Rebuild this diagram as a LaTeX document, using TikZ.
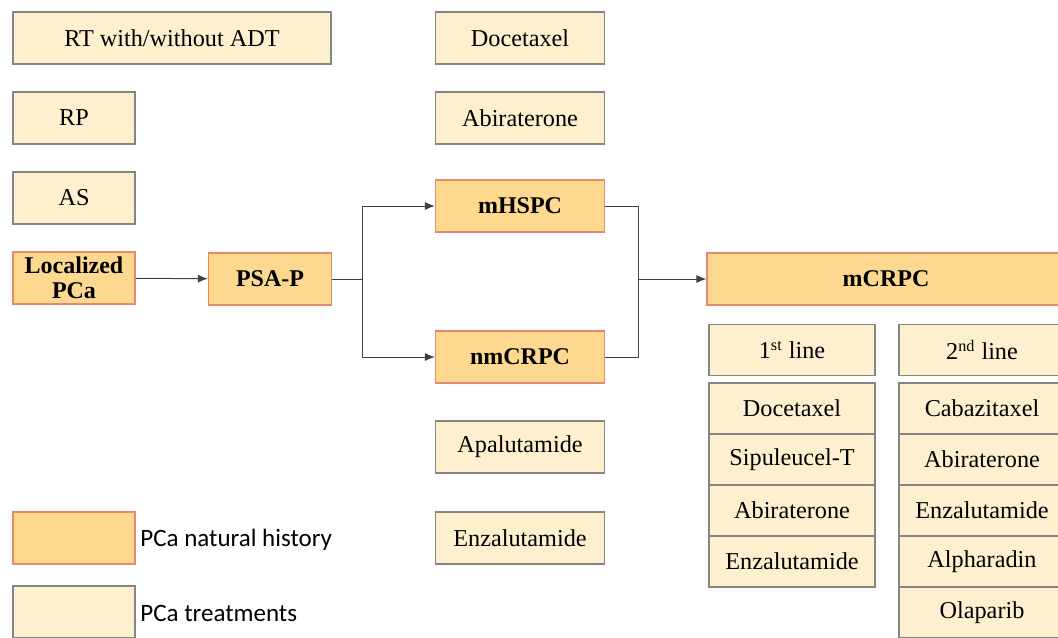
\documentclass[tikz,border=0pt]{standalone}
\usepackage{fontspec}
\setmainfont{Liberation Serif}
\newfontfamily\treatfont{Liberation Serif}[Scale=1.01]
\newfontfamily\keyfont{Carlito}
\usetikzlibrary{arrows.meta}

\definecolor{histfill}{HTML}{FCD98F}
\definecolor{histline}{HTML}{E58A6E}
\definecolor{treatfill}{HTML}{FEF0CE}
\definecolor{treatline}{HTML}{858585}
\definecolor{linkline}{HTML}{404040}

\tikzset{
  natural/.style={draw=histline, fill=histfill, line width=0.6pt,
    minimum height=26pt, inner sep=0pt, font=\bfseries\fontsize{12}{12.5}\selectfont,
    align=center},
  treat/.style={draw=treatline, fill=treatfill, line width=0.6pt,
    minimum height=26pt, inner sep=0pt, font=\treatfont\fontsize{12}{13}\selectfont},
  row/.style={treat, minimum width=83pt, minimum height=25.5pt},
  keytext/.style={anchor=west, inner sep=0pt, font=\keyfont\fontsize{12.5}{13}\selectfont},
  link/.style={draw=linkline, line width=0.5pt},
  arr/.style={link, -{Latex[length=5pt,width=4pt]}},
}

\begin{document}
\begin{tikzpicture}[x=0.5pt, y=-0.5pt]
    \useasboundingbox (0, 0) rectangle (1058, 637);
    \clip (0, 0) rectangle (1058, 637);
    % local treatments
    \node [treat, minimum width=159pt] (rt) at (172, 38) {RT with/without ADT};
    \node [treat, minimum width=61pt] (rp) at (74, 118) {RP};
    \node [treat, minimum width=61pt] (as) at (74, 198) {AS};
    % natural history
    \node [natural, minimum width=61pt] (loc) at (74, 278) {Localized\\PCa};
    \node [natural, minimum width=61.5pt] (psa) at (270, 279) {PSA-P};
    \node [natural, minimum width=84.5pt] (mhspc) at (520, 206) {mHSPC};
    \node [natural, minimum width=84.5pt] (nmcrpc) at (520, 357) {nmCRPC};
    \node [natural, minimum width=179pt] (mcrpc) at (886, 279) {mCRPC};
    % hormone sensitive treatments
    \node [treat, minimum width=84.5pt] (doc) at (520, 38) {Docetaxel};
    \node [treat, minimum width=84.5pt] (abi) at (520, 118) {Abiraterone};
    % non metastatic treatments
    \node [treat, minimum width=84.5pt] (apa) at (520, 447) {Apalutamide};
    \node [treat, minimum width=84.5pt] (enz) at (520, 538) {Enzalutamide};
    % first line
    \node [row] (first) at (792, 350) {1\textsuperscript{st} line};
    \node [row] (fdoc) at (792, 408.5) {Docetaxel};
    \node [row] (fsip) at (792, 459.5) {Sipuleucel-T};
    \node [row] (fabi) at (792, 510.5) {Abiraterone};
    \node [row] (fenz) at (792, 561.5) {Enzalutamide};
    % second line
    \node [row] (second) at (982, 350) {2\textsuperscript{nd} line};
    \node [row] (scab) at (982, 408.5) {Cabazitaxel};
    \node [row] (sabi) at (982, 459.5) {Abiraterone};
    \node [row] (senz) at (982, 510.5) {Enzalutamide};
    \node [row] (salp) at (982, 561.5) {Alpharadin};
    \node [row] (sola) at (982, 612.5) {Olaparib};
    % connectors
    \coordinate (split) at (362, 279);
    \coordinate (join) at (638, 279);
    \draw [arr] (loc) -- (psa);
    \draw [link] (psa) -- (split);
    \draw [arr] (split) |- (mhspc);
    \draw [arr] (split) |- (nmcrpc);
    \draw [link] (mhspc) -| (join);
    \draw [link] (nmcrpc) -| (join);
    \draw [arr] (join) -- (mcrpc);
    % legend
    \node [natural, minimum width=61pt] (keyhist) at (74, 538) {};
    \node [treat, minimum width=61pt] (keytreat) at (74, 612) {};
    \node [keytext] (histtext) at (140, 540) {PCa natural history};
    \node [keytext] (treattext) at (140, 613) {PCa treatments};
  \end{tikzpicture}
\end{document}
